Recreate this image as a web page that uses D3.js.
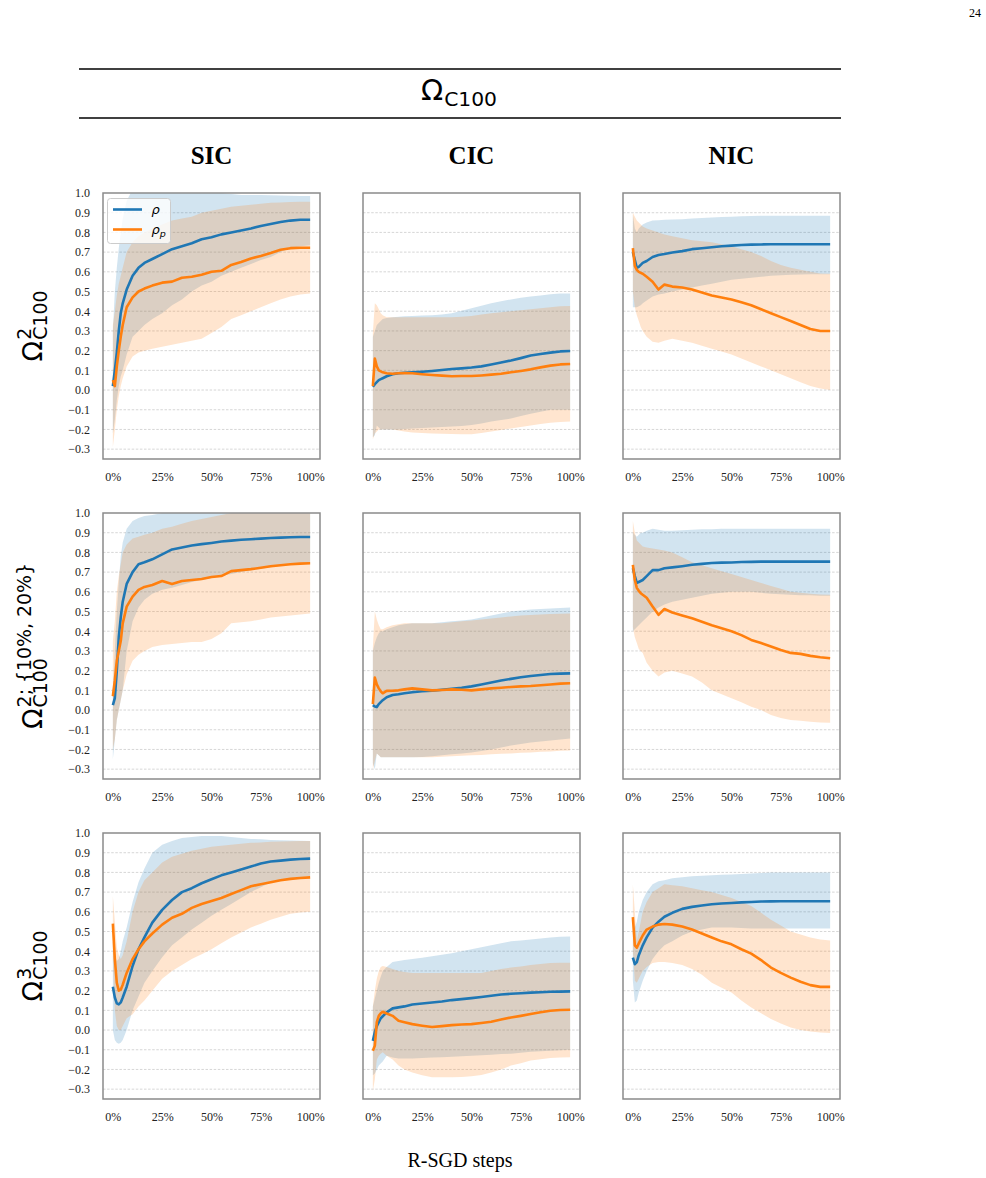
<html>
<head>
<meta charset="utf-8">
<style>
body { margin: 0; background: #fff; }
</style>
</head>
<body>
<div id="chart"></div>
<script src="https://d3js.org/d3.v7.min.js"></script>
<script>

var blue = "#1f77b4"
var orange = "#ff7f0e"

// R-SGD progress (fraction of steps)
var steps = [0, .01, .02, .03, .04, .05, .07, .1, .13, .16, .2, .25, .3, .35, .4, .45, .5, .55, .6, .65, .7, .75, .8, .85, .9, .95, 1]
var yTicks = [-0.3, -0.2, -0.1, 0, 0.1, 0.2, 0.3, 0.4, 0.5, 0.6, 0.7, 0.8, 0.9, 1.0]
var xTicks = [0, 0.25, 0.5, 0.75, 1]
var xTickLabels = ["0%", "25%", "50%", "75%", "100%"]
var colNames = ["SIC", "CIC", "NIC"]
var legendNames = ["\u03c1", "\u03c1p"]

// ---- row 1 : Omega^2 ----
var sic1Rho    = [0.02, 0.1, 0.19, 0.3, 0.39, 0.44, 0.51, 0.58, 0.62, 0.645, 0.665, 0.69, 0.715, 0.73, 0.745, 0.765, 0.775, 0.79, 0.8, 0.81, 0.82, 0.833, 0.843, 0.853, 0.86, 0.864, 0.864]
var sic1RhoLo  = [-0.22, -0.15, -0.05, 0.02, 0.07, 0.1, 0.18, 0.27, 0.3, 0.33, 0.36, 0.39, 0.43, 0.46, 0.5, 0.53, 0.55, 0.58, 0.6, 0.62, 0.64, 0.66, 0.675, 0.7, 0.72, 0.73, 0.735]
var sic1RhoHi  = [0.3, 0.5, 0.62, 0.72, 0.8, 0.87, 0.96, 1.02, 1.03, 1.03, 1.03, 1.03, 1.03, 1.03, 1.02, 1.01, 1.0, 1.0, 0.995, 0.99, 0.99, 0.99, 0.988, 0.987, 0.986, 0.985, 0.985]
var sic1Rhop   = [0.05, 0.02, 0.12, 0.2, 0.27, 0.33, 0.42, 0.47, 0.5, 0.515, 0.53, 0.545, 0.55, 0.57, 0.575, 0.585, 0.6, 0.605, 0.635, 0.65, 0.668, 0.68, 0.695, 0.712, 0.72, 0.722, 0.722]
var sic1RhopLo = [-0.29, -0.2, -0.1, -0.03, 0.02, 0.06, 0.12, 0.17, 0.19, 0.2, 0.21, 0.22, 0.23, 0.24, 0.25, 0.26, 0.29, 0.32, 0.36, 0.38, 0.4, 0.42, 0.44, 0.46, 0.475, 0.485, 0.49]
var sic1RhopHi = [0.33, 0.4, 0.48, 0.54, 0.58, 0.62, 0.7, 0.75, 0.78, 0.8, 0.82, 0.84, 0.86, 0.87, 0.88, 0.9, 0.91, 0.92, 0.93, 0.935, 0.94, 0.945, 0.95, 0.952, 0.954, 0.955, 0.955]

var cic1Rho    = [0.017, 0.03, 0.04, 0.05, 0.055, 0.06, 0.07, 0.08, 0.085, 0.088, 0.09, 0.093, 0.097, 0.102, 0.107, 0.11, 0.114, 0.12, 0.13, 0.14, 0.15, 0.162, 0.175, 0.183, 0.19, 0.196, 0.198]
var cic1RhoLo  = [-0.24, -0.23, -0.18, -0.19, -0.2, -0.2, -0.2, -0.2, -0.2, -0.198, -0.195, -0.193, -0.19, -0.188, -0.185, -0.182, -0.178, -0.17, -0.16, -0.152, -0.145, -0.132, -0.12, -0.11, -0.1, -0.1, -0.1]
var cic1RhoHi  = [0.27, 0.3, 0.33, 0.34, 0.35, 0.36, 0.365, 0.37, 0.372, 0.374, 0.376, 0.378, 0.38, 0.384, 0.39, 0.403, 0.415, 0.428, 0.44, 0.45, 0.46, 0.468, 0.475, 0.48, 0.486, 0.49, 0.49]
var cic1Rhop   = [0.02, 0.16, 0.12, 0.1, 0.095, 0.09, 0.085, 0.083, 0.085, 0.086, 0.085, 0.08, 0.076, 0.073, 0.07, 0.071, 0.071, 0.074, 0.078, 0.083, 0.09, 0.097, 0.105, 0.115, 0.124, 0.13, 0.132]
var cic1RhopLo = [-0.25, -0.22, -0.21, -0.2, -0.2, -0.2, -0.2, -0.2, -0.205, -0.21, -0.215, -0.218, -0.22, -0.222, -0.223, -0.224, -0.224, -0.218, -0.21, -0.203, -0.195, -0.188, -0.18, -0.173, -0.166, -0.162, -0.16]
var cic1RhopHi = [0.29, 0.44, 0.43, 0.41, 0.39, 0.38, 0.37, 0.37, 0.37, 0.37, 0.37, 0.37, 0.37, 0.37, 0.37, 0.372, 0.376, 0.383, 0.39, 0.395, 0.4, 0.405, 0.41, 0.415, 0.42, 0.425, 0.427]

var nic1Rho    = [0.7, 0.66, 0.62, 0.625, 0.635, 0.645, 0.655, 0.675, 0.685, 0.69, 0.698, 0.705, 0.715, 0.72, 0.725, 0.73, 0.733, 0.736, 0.738, 0.739, 0.74, 0.74, 0.74, 0.74, 0.74, 0.74, 0.74]
var nic1RhoLo  = [0.42, 0.42, 0.42, 0.425, 0.43, 0.44, 0.455, 0.475, 0.485, 0.49, 0.5, 0.51, 0.52, 0.53, 0.54, 0.55, 0.56, 0.565, 0.57, 0.575, 0.58, 0.583, 0.585, 0.587, 0.588, 0.588, 0.588]
var nic1RhoHi  = [0.89, 0.82, 0.8, 0.82, 0.83, 0.84, 0.85, 0.86, 0.862, 0.864, 0.865, 0.867, 0.87, 0.873, 0.876, 0.878, 0.88, 0.882, 0.883, 0.884, 0.885, 0.885, 0.885, 0.885, 0.885, 0.885, 0.885]
var nic1Rhop   = [0.72, 0.63, 0.61, 0.6, 0.595, 0.59, 0.575, 0.55, 0.51, 0.535, 0.525, 0.52, 0.51, 0.495, 0.48, 0.47, 0.46, 0.445, 0.43, 0.41, 0.39, 0.37, 0.35, 0.33, 0.31, 0.3, 0.3]
var nic1RhopLo = [0.5, 0.42, 0.38, 0.35, 0.32, 0.3, 0.27, 0.245, 0.24, 0.25, 0.26, 0.25, 0.24, 0.225, 0.21, 0.195, 0.18, 0.16, 0.14, 0.12, 0.1, 0.08, 0.06, 0.04, 0.02, 0.008, 0.0]
var nic1RhopHi = [0.9, 0.88, 0.86, 0.85, 0.84, 0.83, 0.82, 0.81, 0.8, 0.79, 0.78, 0.77, 0.76, 0.755, 0.75, 0.74, 0.73, 0.715, 0.7, 0.68, 0.655, 0.635, 0.62, 0.61, 0.6, 0.592, 0.59]

// ---- row 2 : Omega^{2; {10%, 20%}} ----
var sic2Rho    = [0.025, 0.06, 0.2, 0.37, 0.47, 0.55, 0.64, 0.7, 0.74, 0.75, 0.765, 0.79, 0.815, 0.825, 0.835, 0.842, 0.848, 0.855, 0.86, 0.864, 0.867, 0.87, 0.873, 0.875, 0.877, 0.878, 0.878]
var sic2RhoLo  = [-0.25, -0.15, -0.05, 0.0, 0.05, 0.1, 0.3, 0.45, 0.52, 0.56, 0.59, 0.61, 0.62, 0.635, 0.65, 0.66, 0.67, 0.68, 0.69, 0.7, 0.71, 0.717, 0.725, 0.732, 0.74, 0.743, 0.745]
var sic2RhoHi  = [0.1, 0.3, 0.5, 0.65, 0.78, 0.85, 0.92, 0.96, 0.975, 0.985, 0.99, 1.0, 1.01, 1.02, 1.02, 1.02, 1.02, 1.02, 1.02, 1.02, 1.02, 1.02, 1.02, 1.02, 1.02, 1.02, 1.02]
var sic2Rhop   = [0.07, 0.15, 0.25, 0.3, 0.35, 0.44, 0.525, 0.576, 0.61, 0.625, 0.635, 0.655, 0.64, 0.655, 0.66, 0.665, 0.675, 0.68, 0.705, 0.71, 0.715, 0.722, 0.73, 0.735, 0.74, 0.743, 0.745]
var sic2RhopLo = [-0.2, -0.15, -0.05, 0.0, 0.05, 0.1, 0.18, 0.25, 0.28, 0.3, 0.32, 0.33, 0.335, 0.34, 0.345, 0.345, 0.36, 0.39, 0.44, 0.445, 0.45, 0.46, 0.47, 0.475, 0.48, 0.485, 0.49]
var sic2RhopHi = [0.35, 0.45, 0.6, 0.68, 0.74, 0.8, 0.84, 0.87, 0.88, 0.89, 0.9, 0.92, 0.93, 0.945, 0.96, 0.97, 0.98, 0.99, 1.0, 1.0, 1.0, 1.0, 1.0, 1.0, 1.0, 1.0, 1.0]

var cic2Rho    = [0.025, 0.018, 0.015, 0.03, 0.04, 0.05, 0.065, 0.076, 0.08, 0.085, 0.09, 0.095, 0.098, 0.103, 0.108, 0.113, 0.12, 0.13, 0.14, 0.15, 0.158, 0.166, 0.173, 0.178, 0.183, 0.185, 0.186]
var cic2RhoLo  = [-0.27, -0.3, -0.22, -0.23, -0.24, -0.24, -0.24, -0.24, -0.24, -0.24, -0.24, -0.238, -0.235, -0.23, -0.225, -0.22, -0.215, -0.208, -0.2, -0.19, -0.18, -0.172, -0.165, -0.16, -0.155, -0.15, -0.145]
var cic2RhoHi  = [0.3, 0.34, 0.37, 0.39, 0.4, 0.4, 0.41, 0.42, 0.43, 0.435, 0.44, 0.44, 0.44, 0.445, 0.45, 0.455, 0.46, 0.47, 0.48, 0.49, 0.5, 0.505, 0.51, 0.513, 0.515, 0.518, 0.52]
var cic2Rhop   = [0.03, 0.165, 0.13, 0.11, 0.095, 0.085, 0.097, 0.098, 0.1, 0.105, 0.11, 0.105, 0.1, 0.102, 0.105, 0.103, 0.1, 0.105, 0.11, 0.113, 0.117, 0.12, 0.122, 0.126, 0.13, 0.134, 0.136]
var cic2RhopLo = [-0.3, -0.26, -0.22, -0.23, -0.24, -0.24, -0.24, -0.24, -0.24, -0.24, -0.24, -0.24, -0.24, -0.237, -0.235, -0.232, -0.23, -0.228, -0.225, -0.222, -0.22, -0.217, -0.215, -0.212, -0.21, -0.207, -0.205]
var cic2RhopHi = [0.32, 0.5, 0.46, 0.43, 0.41, 0.41, 0.42, 0.43, 0.435, 0.44, 0.44, 0.44, 0.44, 0.44, 0.445, 0.45, 0.455, 0.46, 0.465, 0.47, 0.475, 0.48, 0.482, 0.485, 0.487, 0.489, 0.49]

var nic2Rho    = [0.72, 0.68, 0.645, 0.65, 0.655, 0.66, 0.68, 0.71, 0.71, 0.72, 0.724, 0.73, 0.737, 0.742, 0.746, 0.748, 0.749, 0.751, 0.752, 0.753, 0.753, 0.753, 0.753, 0.753, 0.753, 0.753, 0.753]
var nic2RhoLo  = [0.4, 0.41, 0.42, 0.43, 0.44, 0.45, 0.47, 0.5, 0.52, 0.535, 0.55, 0.56, 0.57, 0.58, 0.59, 0.595, 0.6, 0.6, 0.6, 0.595, 0.59, 0.588, 0.585, 0.583, 0.582, 0.58, 0.58]
var nic2RhoHi  = [0.9, 0.89, 0.88, 0.89, 0.9, 0.9, 0.91, 0.92, 0.915, 0.91, 0.91, 0.912, 0.915, 0.917, 0.918, 0.92, 0.92, 0.92, 0.92, 0.92, 0.92, 0.92, 0.92, 0.92, 0.92, 0.92, 0.92]
var nic2Rhop   = [0.737, 0.66, 0.62, 0.605, 0.593, 0.585, 0.57, 0.525, 0.483, 0.513, 0.495, 0.48, 0.466, 0.448, 0.43, 0.415, 0.4, 0.38, 0.356, 0.34, 0.322, 0.305, 0.29, 0.285, 0.275, 0.268, 0.263]
var nic2RhopLo = [0.42, 0.37, 0.34, 0.31, 0.3, 0.29, 0.24, 0.2, 0.17, 0.19, 0.2, 0.185, 0.17, 0.14, 0.1, 0.08, 0.06, 0.04, 0.017, 0.0, -0.025, -0.04, -0.05, -0.055, -0.06, -0.063, -0.065]
var nic2RhopHi = [0.96, 0.9, 0.86, 0.85, 0.84, 0.83, 0.825, 0.82, 0.815, 0.81, 0.8, 0.775, 0.75, 0.735, 0.72, 0.705, 0.69, 0.675, 0.66, 0.645, 0.63, 0.615, 0.6, 0.595, 0.59, 0.587, 0.585]

// ---- row 3 : Omega^3 ----
var sic3Rho    = [0.22, 0.165, 0.135, 0.13, 0.14, 0.165, 0.22, 0.325, 0.41, 0.47, 0.545, 0.61, 0.66, 0.7, 0.72, 0.745, 0.765, 0.785, 0.8, 0.815, 0.83, 0.845, 0.855, 0.86, 0.865, 0.868, 0.87]
var sic3RhoLo  = [0.0, -0.05, -0.065, -0.07, -0.065, -0.05, 0.0, 0.1, 0.17, 0.24, 0.3, 0.37, 0.43, 0.47, 0.51, 0.545, 0.58, 0.61, 0.64, 0.67, 0.7, 0.725, 0.75, 0.76, 0.77, 0.775, 0.78]
var sic3RhoHi  = [0.45, 0.38, 0.35, 0.36, 0.4, 0.45, 0.52, 0.65, 0.75, 0.82, 0.9, 0.94, 0.96, 0.975, 0.98, 0.985, 0.985, 0.985, 0.98, 0.975, 0.97, 0.968, 0.965, 0.963, 0.962, 0.961, 0.96]
var sic3Rhop   = [0.54, 0.36, 0.24, 0.2, 0.205, 0.23, 0.29, 0.36, 0.41, 0.45, 0.49, 0.535, 0.57, 0.59, 0.62, 0.64, 0.655, 0.67, 0.69, 0.71, 0.73, 0.74, 0.75, 0.76, 0.767, 0.772, 0.775]
var sic3RhopLo = [0.35, 0.1, 0.02, 0.0, 0.0, 0.02, 0.06, 0.08, 0.12, 0.15, 0.2, 0.26, 0.3, 0.33, 0.36, 0.385, 0.41, 0.44, 0.47, 0.495, 0.52, 0.54, 0.56, 0.575, 0.59, 0.597, 0.6]
var sic3RhopHi = [0.68, 0.55, 0.42, 0.38, 0.36, 0.38, 0.45, 0.6, 0.7, 0.76, 0.8, 0.85, 0.88, 0.895, 0.91, 0.92, 0.93, 0.935, 0.94, 0.945, 0.95, 0.952, 0.955, 0.957, 0.958, 0.96, 0.96]

var cic3Rho    = [-0.055, -0.01, 0.02, 0.04, 0.06, 0.07, 0.09, 0.11, 0.115, 0.12, 0.13, 0.135, 0.14, 0.145, 0.152, 0.157, 0.162, 0.168, 0.174, 0.18, 0.184, 0.187, 0.19, 0.192, 0.194, 0.195, 0.196]
var cic3RhoLo  = [-0.23, -0.22, -0.2, -0.18, -0.17, -0.16, -0.13, -0.14, -0.145, -0.145, -0.145, -0.142, -0.14, -0.138, -0.135, -0.133, -0.13, -0.128, -0.125, -0.122, -0.12, -0.115, -0.11, -0.108, -0.105, -0.102, -0.1]
var cic3RhoHi  = [0.12, 0.16, 0.2, 0.24, 0.27, 0.3, 0.32, 0.345, 0.35, 0.355, 0.36, 0.367, 0.375, 0.382, 0.39, 0.4, 0.41, 0.42, 0.43, 0.44, 0.45, 0.455, 0.46, 0.465, 0.47, 0.473, 0.475]
var cic3Rhop   = [-0.105, -0.08, 0.04, 0.072, 0.085, 0.093, 0.084, 0.072, 0.047, 0.04, 0.03, 0.022, 0.015, 0.02, 0.025, 0.028, 0.03, 0.036, 0.042, 0.053, 0.064, 0.072, 0.081, 0.09, 0.098, 0.102, 0.103]
var cic3RhopLo = [-0.31, -0.25, -0.15, -0.13, -0.12, -0.113, -0.13, -0.15, -0.18, -0.2, -0.215, -0.23, -0.24, -0.24, -0.24, -0.238, -0.235, -0.228, -0.215, -0.2, -0.18, -0.168, -0.155, -0.148, -0.142, -0.14, -0.138]
var cic3RhopHi = [0.12, 0.2, 0.26, 0.3, 0.32, 0.325, 0.32, 0.31, 0.3, 0.295, 0.29, 0.29, 0.29, 0.29, 0.29, 0.29, 0.29, 0.29, 0.3, 0.31, 0.317, 0.323, 0.33, 0.335, 0.34, 0.341, 0.342]

var nic3Rho    = [0.368, 0.334, 0.345, 0.38, 0.405, 0.43, 0.47, 0.52, 0.55, 0.575, 0.595, 0.615, 0.625, 0.632, 0.638, 0.642, 0.645, 0.648, 0.65, 0.652, 0.653, 0.654, 0.654, 0.654, 0.654, 0.654, 0.654]
var nic3RhoLo  = [0.25, 0.14, 0.15, 0.19, 0.22, 0.25, 0.3, 0.36, 0.4, 0.43, 0.45, 0.48, 0.5, 0.51, 0.52, 0.52, 0.52, 0.518, 0.515, 0.515, 0.515, 0.515, 0.515, 0.515, 0.515, 0.515, 0.515]
var nic3RhoHi  = [0.5, 0.52, 0.55, 0.6, 0.63, 0.66, 0.7, 0.74, 0.755, 0.76, 0.77, 0.775, 0.78, 0.783, 0.785, 0.788, 0.79, 0.792, 0.795, 0.797, 0.8, 0.8, 0.8, 0.8, 0.8, 0.8, 0.8]
var nic3Rhop   = [0.573, 0.43, 0.418, 0.44, 0.46, 0.48, 0.51, 0.525, 0.535, 0.538, 0.535, 0.525, 0.51, 0.49, 0.47, 0.45, 0.435, 0.41, 0.388, 0.355, 0.317, 0.29, 0.266, 0.245, 0.228, 0.219, 0.219]
var nic3RhopLo = [0.4, 0.25, 0.24, 0.26, 0.28, 0.3, 0.32, 0.34, 0.345, 0.345, 0.34, 0.33, 0.31, 0.28, 0.24, 0.215, 0.19, 0.15, 0.115, 0.085, 0.056, 0.033, 0.013, 0.0, -0.008, -0.012, -0.015]
var nic3RhopHi = [0.74, 0.6, 0.45, 0.5, 0.55, 0.6, 0.65, 0.7, 0.72, 0.74, 0.735, 0.73, 0.72, 0.71, 0.7, 0.685, 0.67, 0.65, 0.63, 0.595, 0.56, 0.53, 0.5, 0.485, 0.47, 0.46, 0.455]

var panels = [
  {row: 0, col: 0, rho: [sic1Rho, sic1RhoLo, sic1RhoHi], rhop: [sic1Rhop, sic1RhopLo, sic1RhopHi]},
  {row: 0, col: 1, rho: [cic1Rho, cic1RhoLo, cic1RhoHi], rhop: [cic1Rhop, cic1RhopLo, cic1RhopHi]},
  {row: 0, col: 2, rho: [nic1Rho, nic1RhoLo, nic1RhoHi], rhop: [nic1Rhop, nic1RhopLo, nic1RhopHi]},
  {row: 1, col: 0, rho: [sic2Rho, sic2RhoLo, sic2RhoHi], rhop: [sic2Rhop, sic2RhopLo, sic2RhopHi]},
  {row: 1, col: 1, rho: [cic2Rho, cic2RhoLo, cic2RhoHi], rhop: [cic2Rhop, cic2RhopLo, cic2RhopHi]},
  {row: 1, col: 2, rho: [nic2Rho, nic2RhoLo, nic2RhoHi], rhop: [nic2Rhop, nic2RhopLo, nic2RhopHi]},
  {row: 2, col: 0, rho: [sic3Rho, sic3RhoLo, sic3RhoHi], rhop: [sic3Rhop, sic3RhopLo, sic3RhopHi]},
  {row: 2, col: 1, rho: [cic3Rho, cic3RhoLo, cic3RhoHi], rhop: [cic3Rhop, cic3RhopLo, cic3RhopHi]},
  {row: 2, col: 2, rho: [nic3Rho, nic3RhoLo, nic3RhoHi], rhop: [nic3Rhop, nic3RhopLo, nic3RhopHi]}
]

var rowLabels = [
  {sup: "2", sub: "C100"},
  {sup: "2; {10%, 20%}", sub: "C100"},
  {sup: "3", sub: "C100"}
]

var W = 986, H = 1178
var colX = [103, 363, 623], rowY = [193, 513, 833]
var pw = 217, ph = 266
var serif = "'Liberation Serif', 'Times New Roman', serif"
var sans = "'DejaVu Sans', sans-serif"

var svg = d3.select("#chart")
  .append("svg")
  .attr("width", W)
  .attr("height", H)

// page number
svg.append("text")
  .attr("x", 981).attr("y", 17)
  .attr("text-anchor", "end")
  .style("font-family", serif).style("font-size", "12px")
  .text("24")

// Omega with stacked super/subscript; returns total width
function mathLabel(g, size, sup, sub){
  var base = g.append("text")
    .style("font-family", sans).style("font-size", size + "px")
    .attr("x", 0).attr("y", 0)
    .text("\u03a9")
  var bw = base.node().getComputedTextLength()
  var w = 0
  if(sup){
    var t = g.append("text")
      .style("font-family", sans).style("font-size", (size*0.7) + "px")
      .attr("x", bw + 1).attr("y", -size*0.42)
      .text(sup)
    w = Math.max(w, t.node().getComputedTextLength())
  }
  if(sub){
    var s = g.append("text")
      .style("font-family", sans).style("font-size", (size*0.7) + "px")
      .attr("x", bw + 1).attr("y", size*0.2)
      .text(sub)
    w = Math.max(w, s.node().getComputedTextLength())
  }
  return bw + 1 + w
}

// title block
svg.append("line").attr("x1", 79).attr("x2", 841).attr("y1", 69).attr("y2", 69)
  .attr("stroke", "#000").attr("stroke-width", 1.6)
svg.append("line").attr("x1", 79).attr("x2", 841).attr("y1", 118).attr("y2", 118)
  .attr("stroke", "#000").attr("stroke-width", 1.6)
var tg = svg.append("g")
var tinner = tg.append("g")
var tw = mathLabel(tinner, 29, null, "C100")
tg.attr("transform", "translate(" + (459 - tw/2) + ",100)")

// column titles
svg.selectAll(".coltitle")
  .data(colNames)
  .enter().append("text")
  .attr("class", "coltitle")
  .attr("x", (d,i) => colX[i] + pw/2)
  .attr("y", 164)
  .attr("text-anchor", "middle")
  .style("font-family", serif).style("font-size", "25px").style("font-weight", "bold")
  .text(d => d)

// row labels
rowLabels.forEach(function(r, i){
  var g = svg.append("g")
    .attr("transform", "translate(42," + (rowY[i] + ph/2) + ") rotate(-90)")
  var inner = g.append("g")
  var w = mathLabel(inner, 27, r.sup, r.sub)
  inner.attr("transform", "translate(" + (-w/2) + ",0)")
})

var x = d3.scaleLinear().domain([-0.05, 1.05]).range([0, pw])
var y = d3.scaleLinear().domain([-0.35, 1.0]).range([ph, 0])

function rows(s){
  return steps.map(function(st, i){ return {s: st, m: s[0][i], lo: s[1][i], hi: s[2][i]} })
}

var band = d3.area().x(d => x(d.s)).y0(d => y(d.lo)).y1(d => y(d.hi))
var line = d3.line().x(d => x(d.s)).y(d => y(d.m))

panels.forEach(function(p, k){
  var g = svg.append("g")
    .attr("transform", "translate(" + colX[p.col] + "," + rowY[p.row] + ")")

  svg.append("clipPath").attr("id", "clip" + k)
    .append("rect").attr("width", pw).attr("height", ph)

  // grid
  g.selectAll(".grid")
    .data(yTicks.filter(d => d < 1))
    .enter().append("line")
    .attr("class", "grid")
    .attr("x1", 0).attr("x2", pw)
    .attr("y1", d => y(d)).attr("y2", d => y(d))
    .attr("stroke", "#cccccc").attr("stroke-width", 0.8)
    .attr("stroke-dasharray", "2.5,1.6")

  var plot = g.append("g").attr("clip-path", "url(#clip" + k + ")")
  var rho = rows(p.rho), rhop = rows(p.rhop)

  plot.append("path").datum(rho).attr("d", band)
    .attr("fill", blue).attr("fill-opacity", 0.2)
  plot.append("path").datum(rhop).attr("d", band)
    .attr("fill", orange).attr("fill-opacity", 0.2)
  plot.append("path").datum(rho).attr("d", line)
    .attr("fill", "none").attr("stroke", blue).attr("stroke-width", 2.6)
    .attr("stroke-linejoin", "round")
  plot.append("path").datum(rhop).attr("d", line)
    .attr("fill", "none").attr("stroke", orange).attr("stroke-width", 2.6)
    .attr("stroke-linejoin", "round")

  // frame
  g.append("rect").attr("width", pw).attr("height", ph)
    .attr("fill", "none").attr("stroke", "#8a8a8a").attr("stroke-width", 1.5)

  // x axis
  var xa = g.append("g")
    .attr("transform", "translate(0," + ph + ")")
    .call(d3.axisBottom(x).tickValues(xTicks).tickSize(0).tickPadding(13)
      .tickFormat((d,i) => xTickLabels[i]))
  xa.select(".domain").remove()
  xa.selectAll("text").style("font-family", serif).style("font-size", "12px").attr("fill", "#222")

  if(p.col == 0){
    var ya = g.append("g")
      .call(d3.axisLeft(y).tickValues(yTicks).tickSize(0).tickPadding(13)
        .tickFormat(d3.format(".1f")))
    ya.select(".domain").remove()
    ya.selectAll("text").style("font-family", serif).style("font-size", "12px").attr("fill", "#222")
  }
})

// legend in first panel
var lg = svg.append("g").attr("transform", "translate(" + (colX[0] + 4.5) + "," + (rowY[0] + 5.5) + ")")
lg.append("rect").attr("width", 63).attr("height", 45).attr("rx", 3)
  .attr("fill", "#fff").attr("fill-opacity", 0.8)
  .attr("stroke", "#cccccc").attr("stroke-width", 1)
;[blue, orange].forEach(function(c, i){
  var yy = 11 + i*20
  lg.append("line").attr("x1", 5.5).attr("x2", 34.5).attr("y1", yy).attr("y2", yy)
    .attr("stroke", c).attr("stroke-width", 2.6)
  var t = lg.append("text").attr("x", 44).attr("y", yy + 4)
    .style("font-family", sans).style("font-size", "13px").style("font-style", "italic")
  t.append("tspan").text(legendNames[i].charAt(0))
  if(legendNames[i].length > 1){
    t.append("tspan").attr("dy", 3.5).style("font-size", "9.5px").text(legendNames[i].slice(1))
  }
})

// x axis title
svg.append("text")
  .attr("x", 460).attr("y", 1167)
  .attr("text-anchor", "middle")
  .style("font-family", serif).style("font-size", "20px")
  .text("R-SGD steps")

</script>
</body>
</html>
